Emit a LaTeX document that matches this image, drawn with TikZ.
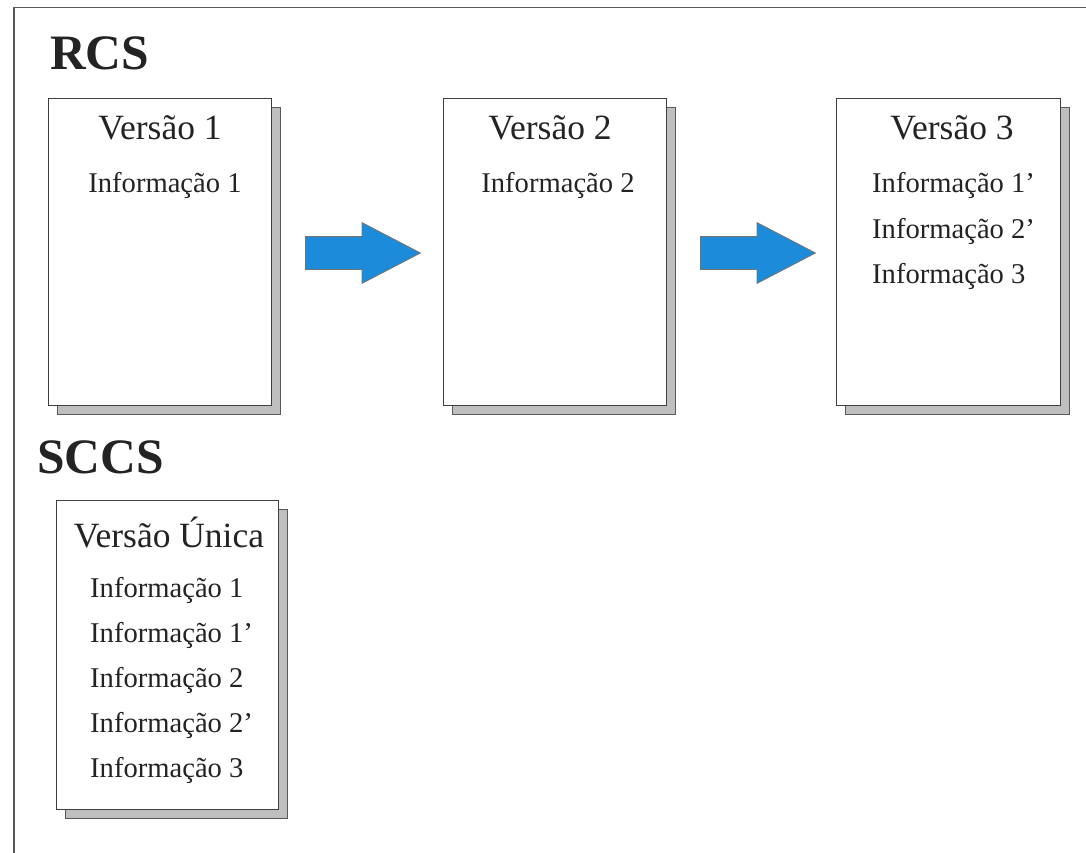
\documentclass[tikz,border=0pt]{standalone}
\usepackage{fontspec}
\setmainfont{Liberation Serif}
\usetikzlibrary{shapes.arrows,shadows}
\definecolor{arrowblue}{RGB}{28,140,218}
\definecolor{inkgray}{RGB}{35,35,35}
\tikzset{
  frameline/.style={draw=black!65,line width=1.6pt},
  pagebox/.style={draw=black!75,line width=1.1pt,fill=white,
    minimum width=223pt,minimum height=307pt,anchor=north west,inner sep=0pt,
    copy shadow={shadow xshift=9pt,shadow yshift=-9pt,fill=gray!50,draw=black!65,line width=1.1pt}},
  title/.style={font=\fontsize{49.5}{49.5}\selectfont\bfseries,text=inkgray,anchor=base west,inner sep=0pt},
  vers/.style={font=\fontsize{35.5}{35.5}\selectfont,text=inkgray,anchor=base,inner sep=0pt},
  info/.style={font=\fontsize{28.6}{28.6}\selectfont,text=inkgray,inner sep=0pt},
  bluearrow/.style={single arrow,draw=black!55,line width=0.8pt,fill=arrowblue,
    inner xsep=0pt,inner ysep=16pt,minimum height=115pt,
    single arrow head extend=14pt,single arrow tip angle=55,
    single arrow head indent=0pt,shape border rotate=0,anchor=tail}
}
\begin{document}
\begin{tikzpicture}[x=1pt,y=-1pt]
\useasboundingbox (0,0) rectangle (1086,853);
% outer frame: top and left edges only
\coordinate (fl) at (14,7.5);
\coordinate (fr) at (1086,7.5);
\coordinate (fb) at (14,853);
\draw[frameline] (fr) -- (fl) -- (fb);

% RCS: three versions, each a full copy
\node[title] (rcs) at (50,70) {RCS};
\node[pagebox] (v1) at (48,98) {};
\node[pagebox] (v2) at (443,98) {};
\node[pagebox,minimum width=224pt] (v3) at (836,98) {};

\node[vers] (v1t) at (160,140) {Versão 1};
\node[info,anchor=base] (v1i1) at (165,193) {Informação 1};

\node[vers] (v2t) at (550,140) {Versão 2};
\node[info,anchor=base] (v2i1) at (558,193) {Informação 2};

\node[vers] (v3t) at (952,140) {Versão 3};
\node[info,anchor=base west] (v3i1) at (872,193) {Informação 1’};
\node[info,anchor=base west] (v3i2) at (872,238) {Informação 2’};
\node[info,anchor=base west] (v3i3) at (872,283) {Informação 3};

\node[bluearrow] (a1) at (305,253) {};
\node[bluearrow] (a2) at (700,253) {};

% SCCS: a single file holding every delta
\node[title] (sccs) at (37,473) {SCCS};
\node[pagebox,minimum width=222pt,minimum height=309pt] (vu) at (56,500) {};
\node[vers] (vut) at (169,547) {Versão Única};
\node[info,anchor=base west] (vu1) at (90,597) {Informação 1};
\node[info,anchor=base west] (vu2) at (90,642) {Informação 1’};
\node[info,anchor=base west] (vu3) at (90,687) {Informação 2};
\node[info,anchor=base west] (vu4) at (90,732) {Informação 2’};
\node[info,anchor=base west] (vu5) at (90,777) {Informação 3};
\end{tikzpicture}
\end{document}
